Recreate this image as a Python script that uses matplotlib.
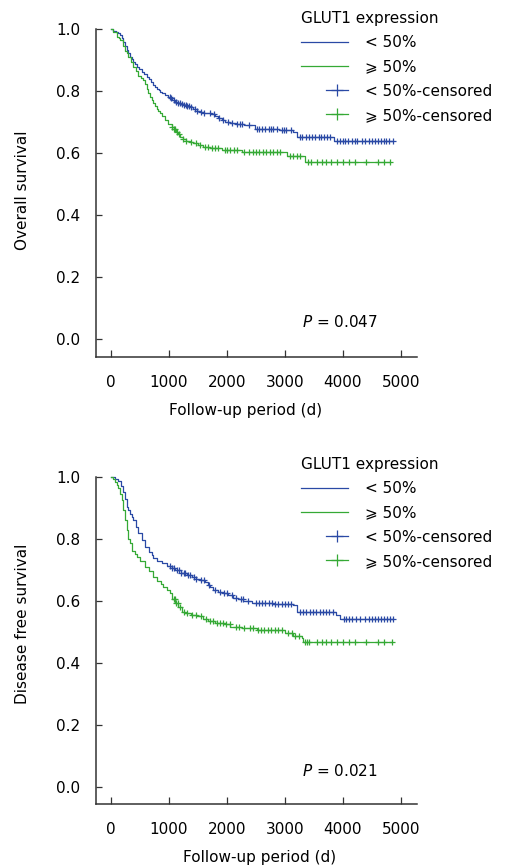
import numpy as np
import matplotlib
matplotlib.use("Agg")
import matplotlib.pyplot as plt
from matplotlib.lines import Line2D
from matplotlib.legend_handler import HandlerBase

plt.rcParams['font.family'] = ['DejaVu Sans', 'Noto Sans CJK SC', 'Noto Sans']
plt.rcParams['font.size'] = 11

# ---------------- data ----------------
legend_title = "GLUT1 expression"
group_labels = ["< 50%", "\u2a7e 50%"]
censor_labels = ["< 50%-censored", "\u2a7e 50%-censored"]
x_ticks = [0, 1000, 2000, 3000, 4000, 5000]
y_ticks = [0.0, 0.2, 0.4, 0.6, 0.8, 1.0]
x_label = "Follow-up period (d)"
y_labels = ["Overall survival", "Disease free survival"]
p_texts = ["$P$ = 0.047", "$P$ = 0.021"]

# Overall survival, GLUT1 < 50%
os_low_t = [0, 40, 80, 126, 155, 185, 213, 241, 270, 300, 328, 357, 385, 414, 443, 490, 530, 575,
            615, 650, 690, 730, 760, 790, 820, 845, 880, 930, 975, 1017, 1060, 1100, 1150, 1200,
            1250, 1300, 1362, 1420, 1480, 1534, 1600, 1649, 1720, 1790, 1850, 1910, 1966, 2060,
            2150, 2300, 2483, 2700, 2900, 3057, 3144, 3201, 3840]
os_low_s = [1.0, 0.995, 0.99, 0.986, 0.981, 0.972, 0.958, 0.945, 0.932, 0.922, 0.911, 0.903, 0.895,
            0.887, 0.878, 0.871, 0.862, 0.855, 0.846, 0.838, 0.829, 0.819, 0.813, 0.808, 0.803, 0.798,
            0.792, 0.786, 0.781, 0.776, 0.771, 0.766, 0.762, 0.758, 0.755, 0.751, 0.749, 0.742, 0.737,
            0.733, 0.730, 0.728, 0.725, 0.718, 0.712, 0.706, 0.701, 0.698, 0.695, 0.690, 0.677, 0.676,
            0.675, 0.674, 0.668, 0.652, 0.640]
os_low_c = [1010, 1040, 1080, 1120, 1160, 1190, 1230, 1260, 1290, 1310, 1350, 1380, 1450, 1480, 1560,
            1600, 1700, 1780, 1870, 1930, 2020, 2090, 2180, 2230, 2260, 2380, 2520, 2560, 2610, 2650,
            2720, 2760, 2800, 2860, 2940, 2980, 3020, 3100, 3250, 3300, 3360, 3420, 3460, 3520, 3580,
            3620, 3680, 3720, 3780, 3900, 3950, 4000, 4040, 4080, 4150, 4200, 4250, 4320, 4380, 4440,
            4500, 4560, 4600, 4650, 4700, 4750, 4800, 4868]

# Overall survival, GLUT1 >= 50%
os_high_t = [0, 40, 98, 130, 155, 200, 241, 270, 300, 340, 385, 430, 470, 515, 557, 590, 620, 645,
             672, 700, 730, 760, 790, 816, 845, 880, 930, 980, 1046, 1080, 1120, 1150, 1190, 1240,
             1300, 1360, 1420, 1506, 1592, 1700, 1908, 2253, 3028, 3345]
os_high_s = [1.0, 0.99, 0.975, 0.97, 0.963, 0.945, 0.93, 0.922, 0.91, 0.894, 0.878, 0.864, 0.85,
             0.842, 0.835, 0.822, 0.808, 0.795, 0.781, 0.772, 0.762, 0.752, 0.742, 0.735, 0.728, 0.718,
             0.705, 0.695, 0.685, 0.676, 0.668, 0.661, 0.653, 0.646, 0.640, 0.636, 0.631, 0.626, 0.620,
             0.615, 0.610, 0.604, 0.590, 0.570]
os_high_c = [1060, 1080, 1110, 1130, 1180, 1240, 1300, 1380, 1460, 1540, 1620, 1680, 1740, 1800, 1850,
             1960, 2000, 2060, 2120, 2180, 2300, 2380, 2440, 2500, 2560, 2620, 2680, 2740, 2800, 2860,
             2920, 3080, 3140, 3200, 3260, 3400, 3450, 3560, 3640, 3700, 3800, 3900, 4000, 4100, 4200,
             4400, 4600, 4700, 4810]

# Disease free survival, GLUT1 < 50%
dfs_low_t = [0, 60, 126, 170, 213, 241, 270, 298, 330, 357, 385, 430, 471, 530, 586, 650, 700, 730,
             800, 874, 960, 1046, 1103, 1200, 1305, 1391, 1470, 1534, 1621, 1670, 1707, 1764, 1850,
             1937, 2023, 2110, 2195, 2282, 2425, 2800, 3144, 3201, 3880, 3950]
dfs_low_s = [1.0, 0.993, 0.988, 0.972, 0.952, 0.930, 0.904, 0.893, 0.882, 0.872, 0.862, 0.840, 0.818,
             0.797, 0.775, 0.758, 0.748, 0.740, 0.730, 0.722, 0.712, 0.705, 0.699, 0.691, 0.684, 0.677,
             0.672, 0.668, 0.660, 0.652, 0.646, 0.636, 0.630, 0.625, 0.619, 0.611, 0.606, 0.601, 0.593,
             0.590, 0.587, 0.566, 0.555, 0.541]
dfs_low_c = [1010, 1050, 1090, 1130, 1170, 1210, 1250, 1280, 1320, 1360, 1430, 1470, 1550, 1600, 1690,
             1790, 1880, 1950, 2000, 2080, 2150, 2240, 2270, 2360, 2500, 2550, 2600, 2660, 2720, 2770,
             2830, 2880, 2950, 3000, 3050, 3100, 3250, 3310, 3370, 3430, 3480, 3540, 3600, 3650, 3700,
             3760, 3820, 4020, 4060, 4100, 4160, 4220, 4300, 4380, 4440, 4500, 4560, 4610, 4660, 4700,
             4760, 4810, 4868]

# Disease free survival, GLUT1 >= 50%
dfs_high_t = [0, 30, 69, 100, 126, 155, 184, 213, 241, 270, 298, 328, 370, 414, 443, 500, 586, 650,
              730, 800, 860, 902, 960, 1017, 1060, 1103, 1160, 1218, 1276, 1380, 1477, 1580, 1678,
              1800, 1966, 2052, 2253, 2512, 3000, 3144, 3287, 3316]
dfs_high_s = [1.0, 0.992, 0.984, 0.975, 0.965, 0.945, 0.926, 0.895, 0.861, 0.830, 0.800, 0.786, 0.760,
              0.750, 0.743, 0.728, 0.711, 0.698, 0.678, 0.665, 0.655, 0.646, 0.636, 0.625, 0.608, 0.592,
              0.580, 0.566, 0.562, 0.556, 0.550, 0.543, 0.535, 0.530, 0.525, 0.517, 0.513, 0.506, 0.496,
              0.487, 0.479, 0.468]
dfs_high_c = [1080, 1100, 1120, 1150, 1190, 1250, 1310, 1400, 1470, 1550, 1640, 1700, 1760, 1830, 1880,
              1930, 1990, 2050, 2150, 2200, 2300, 2400, 2450, 2530, 2580, 2640, 2700, 2760, 2820, 2880,
              2940, 3060, 3120, 3180, 3240, 3340, 3380, 3420, 3560, 3640, 3700, 3800, 3900, 4000, 4100,
              4200, 4400, 4600, 4700, 4839]

# ---------------- style ----------------
BLUE = "#2a49a5"
GREEN = "#35a935"
AX_COL = "#333333"


class CensorHandler(HandlerBase):
    def create_artists(self, legend, orig_handle, xdescent, ydescent, width, height, fontsize, trans):
        y = height / 2.0 - ydescent
        x0 = -xdescent + width * 0.53
        x1 = -xdescent + width
        ln = Line2D([x0, x1], [y, y], color=orig_handle.get_color(), lw=0.9)
        mk = Line2D([(x0 + x1) / 2.0], [y], color=orig_handle.get_color(), marker='+',
                    markersize=9, markeredgewidth=0.9, linestyle='none')
        ln.set_transform(trans)
        mk.set_transform(trans)
        return [ln, mk]


def km_plot(ax, t, s, c, color):
    t = np.asarray(t, float)
    s = np.asarray(s, float)
    c = np.asarray(c, float)
    end = c.max()
    tx = np.append(t, end)
    sx = np.append(s, s[-1])
    ax.step(tx, sx, where='post', color=color, lw=0.9, clip_on=False)
    idx = np.searchsorted(t, c, side='right') - 1
    ax.plot(c, s[idx], linestyle='none', marker='+', color=color, markersize=5,
            markeredgewidth=0.9, clip_on=False)


fig = plt.figure(figsize=(5.05, 8.66), dpi=100)
W, H = 505.0, 866.0

panels = [
    dict(rect=[96 / W, 1 - 357 / H, 321 / W, 328 / H], ymin=-0.058,
         low=(os_low_t, os_low_s, os_low_c), high=(os_high_t, os_high_s, os_high_c),
         ylabel=y_labels[0], ylab_y=0.509, xlab_x=0.467, p=p_texts[0], p_y=0.04,
         leg_y=1 - 11 / H),
    dict(rect=[96 / W, 1 - 804 / H, 321 / W, 327 / H], ymin=-0.055,
         low=(dfs_low_t, dfs_low_s, dfs_low_c), high=(dfs_high_t, dfs_high_s, dfs_high_c),
         ylabel=y_labels[1], ylab_y=0.55, xlab_x=0.511, p=p_texts[1], p_y=0.036,
         leg_y=1 - 457 / H),
]

for pn in panels:
    ax = fig.add_axes(pn['rect'])
    km_plot(ax, *pn['low'], BLUE)
    km_plot(ax, *pn['high'], GREEN)
    ax.set_xlim(-259, 5276)
    ax.set_ylim(pn['ymin'], 1.0)
    ax.set_xticks(x_ticks)
    ax.set_yticks(y_ticks)
    ax.set_yticklabels([f"{v:.1f}" for v in y_ticks])
    for sp in ['top', 'right']:
        ax.spines[sp].set_visible(False)
    for sp in ['left', 'bottom']:
        ax.spines[sp].set_color(AX_COL)
        ax.spines[sp].set_linewidth(1.1)
    ax.tick_params(axis='y', direction='in', length=4.5, width=0.9, color=AX_COL, pad=11.5,
                   labelsize=11)
    ax.tick_params(axis='x', direction='in', length=5, width=0.9, color=AX_COL, pad=13,
                   labelsize=11)
    ax.set_xlabel(x_label, fontsize=11, labelpad=6)
    ax.xaxis.set_label_coords(pn['xlab_x'], -0.14)
    ax.xaxis.label.set_va('top')
    ax.set_ylabel(pn['ylabel'], fontsize=11)
    ax.yaxis.set_label_coords(-0.205, pn['ylab_y'])
    ax.text(3290, pn['p_y'], pn['p'], fontsize=11, ha='left', va='baseline')

    handles = [Line2D([], [], color=BLUE, lw=0.9), Line2D([], [], color=GREEN, lw=0.9),
               Line2D([], [], color=BLUE), Line2D([], [], color=GREEN)]
    cens_handler = CensorHandler()
    leg = fig.legend(handles, group_labels + censor_labels, title=legend_title,
                     loc='upper left', bbox_to_anchor=(301 / W, pn['leg_y']),
                     bbox_transform=fig.transFigure, frameon=False, borderpad=0,
                     borderaxespad=0, fontsize=11, title_fontsize=11, handlelength=3.1,
                     handletextpad=1.1, labelspacing=0.6, alignment='left',
                     handler_map={handles[2]: cens_handler, handles[3]: cens_handler})

fig.savefig("out.png", dpi=100)
